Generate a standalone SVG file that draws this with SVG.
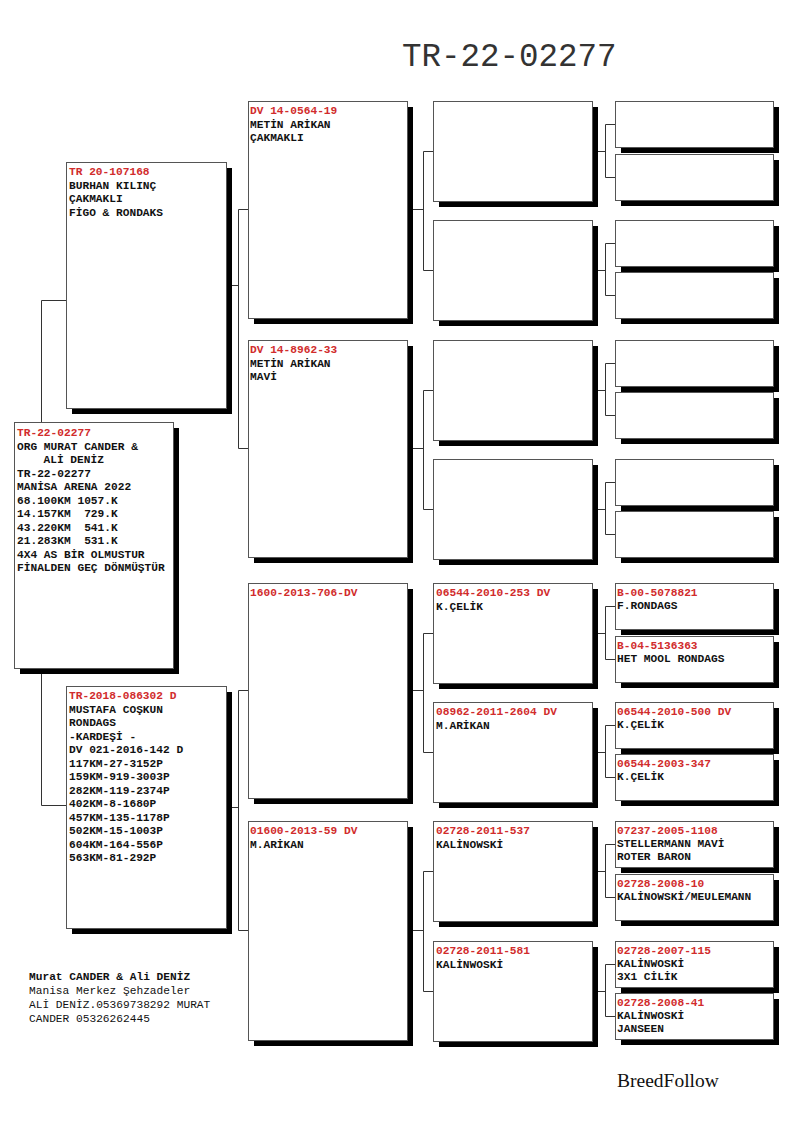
<svg xmlns="http://www.w3.org/2000/svg" width="794" height="1123" viewBox="0 0 794 1123">
<style>
.sh{fill:#000}
.bx{fill:#fff;stroke:#555;stroke-width:1}
.t{font-family:"Liberation Mono","Courier New",monospace;font-size:11.2px;font-weight:bold;fill:#111;white-space:pre}
.r{fill:#d12c2c}
.n{font-weight:normal}
.c{fill:none;stroke:#333;stroke-width:1}
</style>
<rect width="794" height="1123" fill="#fff"/>
<text x="402" y="66" style="font-family:'Liberation Mono','Courier New',monospace;font-size:32.5px;fill:#333">TR-22-02277</text>

<g id="connectors" class="c">
<path d="M41.5,422 V300.5 H66 M41.5,668 V805.5 H66"/>
<path d="M232,285.5 H238.5 M248,209.5 H238.5 V448.5 H248"/>
<path d="M232,807.5 H238.5 M248,690.5 H238.5 V930.5 H248"/>
<path d="M413,209.5 H423.5 M433,151.5 H423.5 V270.5 H433"/>
<path d="M413,448.5 H423.5 M433,390.5 H423.5 V509.5 H433"/>
<path d="M413,690.5 H423.5 M433,633.5 H423.5 V752.5 H433"/>
<path d="M413,930.5 H423.5 M433,871.5 H423.5 V991.5 H433"/>
<path d="M598,151.5 H605.5 M615,124.5 H605.5 V177.5 H615"/>
<path d="M598,270.5 H605.5 M615,243.5 H605.5 V295.5 H615"/>
<path d="M598,390.5 H605.5 M615,363.5 H605.5 V415.5 H615"/>
<path d="M598,509.5 H605.5 M615,482.5 H605.5 V534.5 H615"/>
<path d="M598,633.5 H605.5 M615,606.5 H605.5 V659.5 H615"/>
<path d="M598,752.5 H605.5 M615,725.5 H605.5 V777.5 H615"/>
<path d="M598,871.5 H605.5 M615,844.5 H605.5 V897.5 H615"/>
<path d="M598,991.5 H605.5 M615,964.5 H605.5 V1016.5 H615"/>
</g>

<g id="main">
<rect class="sh" x="20" y="428" width="159" height="246"/>
<rect class="bx" x="14.5" y="422.5" width="159" height="246"/>
<text class="t"><tspan class="r" x="17" y="436">TR-22-02277</tspan><tspan x="17" y="449.5">ORG MURAT CANDER &amp;</tspan><tspan x="43.5" y="463">ALİ DENİZ</tspan><tspan x="17" y="476.5">TR-22-02277</tspan><tspan x="17" y="490">MANİSA ARENA 2022</tspan><tspan x="17" y="503.5">68.100KM 1057.K</tspan><tspan x="17" y="517" xml:space="preserve">14.157KM  729.K</tspan><tspan x="17" y="530.5" xml:space="preserve">43.220KM  541.K</tspan><tspan x="17" y="544" xml:space="preserve">21.283KM  531.K</tspan><tspan x="17" y="557.5">4X4 AS BİR OLMUSTUR</tspan><tspan x="17" y="571">FİNALDEN GEÇ DÖNMÜŞTÜR</tspan></text>
</g>

<g id="sire">
<rect class="sh" x="72" y="168" width="160" height="246"/>
<rect class="bx" x="66.5" y="162.5" width="160" height="246"/>
<text class="t"><tspan class="r" x="69" y="175">TR 20-107168</tspan><tspan x="69" y="188.5">BURHAN KILINÇ</tspan><tspan x="69" y="202">ÇAKMAKLI</tspan><tspan x="69" y="215.5">FİGO &amp; RONDAKS</tspan></text>
</g>

<g id="dam">
<rect class="sh" x="72" y="692" width="160" height="242"/>
<rect class="bx" x="66.5" y="686.5" width="160" height="242"/>
<text class="t"><tspan class="r" x="69" y="699">TR-2018-086302 D</tspan><tspan x="69" y="712.5">MUSTAFA COŞKUN</tspan><tspan x="69" y="726">RONDAGS</tspan><tspan x="69" y="739.5">-KARDEŞİ -</tspan><tspan x="69" y="753">DV 021-2016-142 D</tspan><tspan x="69" y="766.5">117KM-27-3152P</tspan><tspan x="69" y="780">159KM-919-3003P</tspan><tspan x="69" y="793.5">282KM-119-2374P</tspan><tspan x="69" y="807">402KM-8-1680P</tspan><tspan x="69" y="820.5">457KM-135-1178P</tspan><tspan x="69" y="834">502KM-15-1003P</tspan><tspan x="69" y="847.5">604KM-164-556P</tspan><tspan x="69" y="861">563KM-81-292P</tspan></text>
</g>

<g id="g2-1">
<rect class="sh" x="254" y="107" width="159" height="217"/>
<rect class="bx" x="248.5" y="101.5" width="159" height="217"/>
<text class="t"><tspan class="r" x="250" y="114">DV 14-0564-19</tspan><tspan x="250" y="127.5">METİN ARİKAN</tspan><tspan x="250" y="141">ÇAKMAKLI</tspan></text>
</g>
<g id="g2-2">
<rect class="sh" x="254" y="346" width="159" height="217"/>
<rect class="bx" x="248.5" y="340.5" width="159" height="217"/>
<text class="t"><tspan class="r" x="250" y="353">DV 14-8962-33</tspan><tspan x="250" y="366.5">METİN ARİKAN</tspan><tspan x="250" y="380">MAVİ</tspan></text>
</g>
<g id="g2-3">
<rect class="sh" x="254" y="589" width="159" height="215"/>
<rect class="bx" x="248.5" y="583.5" width="159" height="215"/>
<text class="t"><tspan class="r" x="250" y="596">1600-2013-706-DV</tspan></text>
</g>
<g id="g2-4">
<rect class="sh" x="254" y="827" width="159" height="219"/>
<rect class="bx" x="248.5" y="821.5" width="159" height="219"/>
<text class="t"><tspan class="r" x="250" y="834">01600-2013-59 DV</tspan><tspan x="250" y="847.5">M.ARİKAN</tspan></text>
</g>

<g id="g3-1"><rect class="sh" x="439" y="107" width="159" height="100"/><rect class="bx" x="433.5" y="101.5" width="159" height="100"/></g>
<g id="g3-2"><rect class="sh" x="439" y="226" width="159" height="100"/><rect class="bx" x="433.5" y="220.5" width="159" height="100"/></g>
<g id="g3-3"><rect class="sh" x="439" y="346" width="159" height="100"/><rect class="bx" x="433.5" y="340.5" width="159" height="100"/></g>
<g id="g3-4"><rect class="sh" x="439" y="465" width="159" height="100"/><rect class="bx" x="433.5" y="459.5" width="159" height="100"/></g>
<g id="g3-5"><rect class="sh" x="439" y="589" width="159" height="100"/><rect class="bx" x="433.5" y="583.5" width="159" height="100"/>
<text class="t"><tspan class="r" x="436" y="596">06544-2010-253 DV</tspan><tspan x="436" y="609.5">K.ÇELİK</tspan></text></g>
<g id="g3-6"><rect class="sh" x="439" y="708" width="159" height="100"/><rect class="bx" x="433.5" y="702.5" width="159" height="100"/>
<text class="t"><tspan class="r" x="436" y="715">08962-2011-2604 DV</tspan><tspan x="436" y="728.5">M.ARİKAN</tspan></text></g>
<g id="g3-7"><rect class="sh" x="439" y="827" width="159" height="100"/><rect class="bx" x="433.5" y="821.5" width="159" height="100"/>
<text class="t"><tspan class="r" x="436" y="834">02728-2011-537</tspan><tspan x="436" y="847.5">KALİNOWSKİ</tspan></text></g>
<g id="g3-8"><rect class="sh" x="439" y="947" width="159" height="100"/><rect class="bx" x="433.5" y="941.5" width="159" height="100"/>
<text class="t"><tspan class="r" x="436" y="954">02728-2011-581</tspan><tspan x="436" y="967.5">KALİNWOSKİ</tspan></text></g>

<g id="g4-1"><rect class="sh" x="621" y="107" width="158" height="46"/><rect class="bx" x="615.5" y="101.5" width="158" height="46"/></g>
<g id="g4-2"><rect class="sh" x="621" y="160" width="158" height="46"/><rect class="bx" x="615.5" y="154.5" width="158" height="46"/></g>
<g id="g4-3"><rect class="sh" x="621" y="226" width="158" height="46"/><rect class="bx" x="615.5" y="220.5" width="158" height="46"/></g>
<g id="g4-4"><rect class="sh" x="621" y="278" width="158" height="46"/><rect class="bx" x="615.5" y="272.5" width="158" height="46"/></g>
<g id="g4-5"><rect class="sh" x="621" y="346" width="158" height="46"/><rect class="bx" x="615.5" y="340.5" width="158" height="46"/></g>
<g id="g4-6"><rect class="sh" x="621" y="398" width="158" height="46"/><rect class="bx" x="615.5" y="392.5" width="158" height="46"/></g>
<g id="g4-7"><rect class="sh" x="621" y="465" width="158" height="46"/><rect class="bx" x="615.5" y="459.5" width="158" height="46"/></g>
<g id="g4-8"><rect class="sh" x="621" y="517" width="158" height="46"/><rect class="bx" x="615.5" y="511.5" width="158" height="46"/></g>
<g id="g4-9"><rect class="sh" x="621" y="589" width="158" height="46"/><rect class="bx" x="615.5" y="583.5" width="158" height="46"/>
<text class="t"><tspan class="r" x="617" y="595.5">B-00-5078821</tspan><tspan x="617" y="608.5">F.RONDAGS</tspan></text></g>
<g id="g4-10"><rect class="sh" x="621" y="642" width="158" height="46"/><rect class="bx" x="615.5" y="636.5" width="158" height="46"/>
<text class="t"><tspan class="r" x="617" y="648.5">B-04-5136363</tspan><tspan x="617" y="661.5">HET MOOL RONDAGS</tspan></text></g>
<g id="g4-11"><rect class="sh" x="621" y="708" width="158" height="46"/><rect class="bx" x="615.5" y="702.5" width="158" height="46"/>
<text class="t"><tspan class="r" x="617" y="714.5">06544-2010-500 DV</tspan><tspan x="617" y="727.5">K.ÇELİK</tspan></text></g>
<g id="g4-12"><rect class="sh" x="621" y="760" width="158" height="46"/><rect class="bx" x="615.5" y="754.5" width="158" height="46"/>
<text class="t"><tspan class="r" x="617" y="766.5">06544-2003-347</tspan><tspan x="617" y="779.5">K.ÇELİK</tspan></text></g>
<g id="g4-13"><rect class="sh" x="621" y="827" width="158" height="46"/><rect class="bx" x="615.5" y="821.5" width="158" height="46"/>
<text class="t"><tspan class="r" x="617" y="833.5">07237-2005-1108</tspan><tspan x="617" y="846.5">STELLERMANN MAVİ</tspan><tspan x="617" y="859.5">ROTER BARON</tspan></text></g>
<g id="g4-14"><rect class="sh" x="621" y="880" width="158" height="46"/><rect class="bx" x="615.5" y="874.5" width="158" height="46"/>
<text class="t"><tspan class="r" x="617" y="886.5">02728-2008-10</tspan><tspan x="617" y="899.5">KALİNOWSKİ/MEULEMANN</tspan></text></g>
<g id="g4-15"><rect class="sh" x="621" y="947" width="158" height="46"/><rect class="bx" x="615.5" y="941.5" width="158" height="46"/>
<text class="t"><tspan class="r" x="617" y="953.5">02728-2007-115</tspan><tspan x="617" y="966.5">KALİNWOSKİ</tspan><tspan x="617" y="979.5">3X1 CİLİK</tspan></text></g>
<g id="g4-16"><rect class="sh" x="621" y="999" width="158" height="46"/><rect class="bx" x="615.5" y="993.5" width="158" height="46"/>
<text class="t"><tspan class="r" x="617" y="1005.5">02728-2008-41</tspan><tspan x="617" y="1018.5">KALİNWOSKİ</tspan><tspan x="617" y="1031.5">JANSEEN</tspan></text></g>

<g id="owner">
<text class="t"><tspan x="29" y="979.5">Murat CANDER &amp; Ali DENİZ</tspan><tspan class="n" x="29" y="993.5">Manisa Merkez Şehzadeler</tspan><tspan class="n" x="29" y="1007.5">ALİ DENİZ.05369738292 MURAT</tspan><tspan class="n" x="29" y="1021.5">CANDER 05326262445</tspan></text>
</g>
<text x="617" y="1087" style="font-family:'Liberation Serif','Times New Roman',serif;font-size:19.5px;fill:#111">BreedFollow</text>
</svg>
